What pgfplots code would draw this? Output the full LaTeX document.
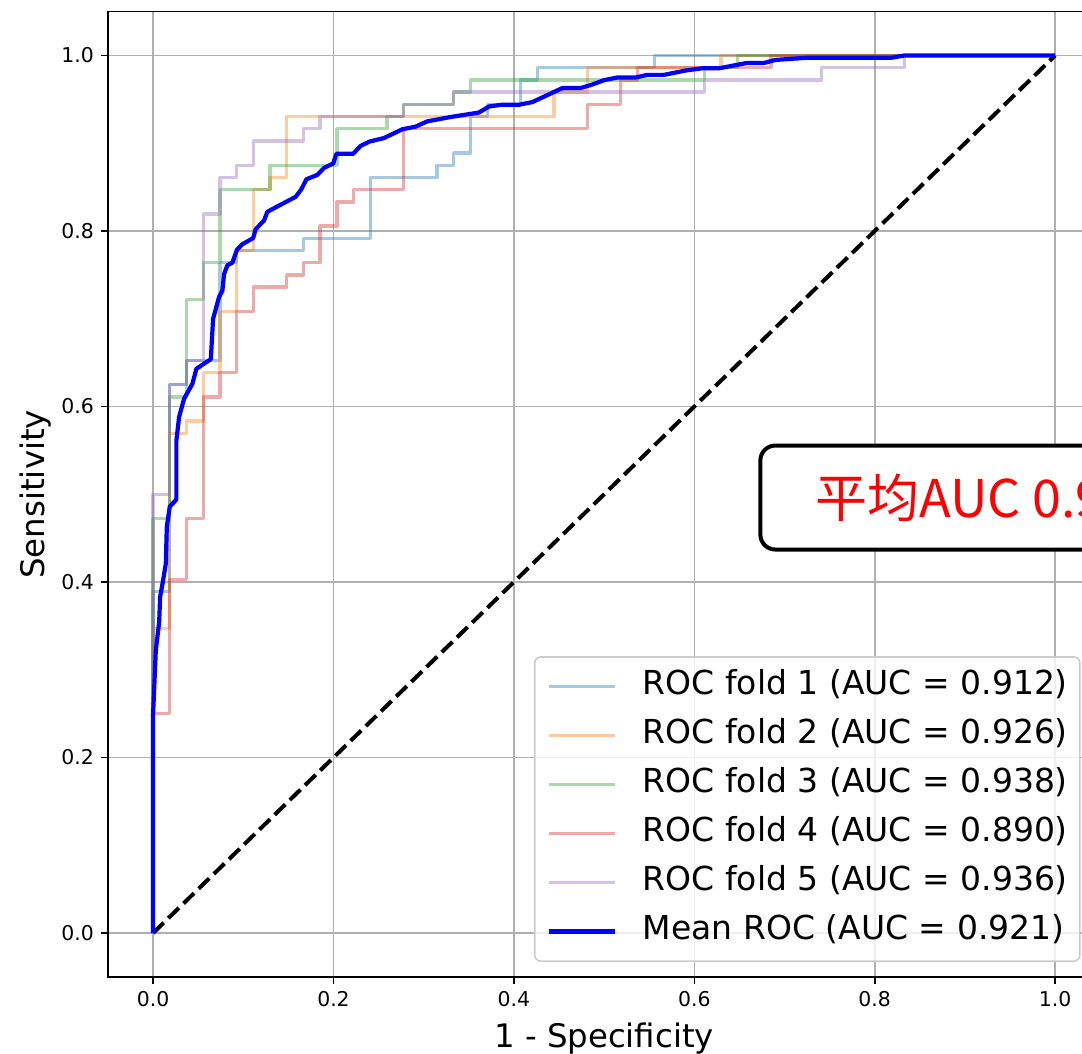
\documentclass[border=0pt]{standalone}
\usepackage{pgfplots}
\pgfplotsset{compat=1.18}
\usepackage{fontspec}
\setmainfont{DejaVu Sans}
\newfontfamily\cjk{Noto Sans CJK SC}
\definecolor{c0}{HTML}{1F77B4}
\definecolor{c1}{HTML}{FF7F0E}
\definecolor{c2}{HTML}{2CA02C}
\definecolor{c3}{HTML}{D62728}
\definecolor{c4}{HTML}{9467BD}
\definecolor{gridgray}{HTML}{B0B0B0}
\definecolor{legframe}{HTML}{CCCCCC}
\begin{document}
\begin{tikzpicture}
\useasboundingbox (-54pt,-38.55pt) rectangle (487pt,488.45pt);
\clip (-54pt,-38.55pt) rectangle (487pt,488.45pt);
\begin{axis}[
  scale only axis,
  width=496.1pt, height=482.6pt,
  xmin=-0.05, xmax=1.05, ymin=-0.05, ymax=1.05,
  xtick={0,0.2,0.4,0.6,0.8,1}, xticklabels={0.0,0.2,0.4,0.6,0.8,1.0},
  ytick={0,0.2,0.4,0.6,0.8,1}, yticklabels={0.0,0.2,0.4,0.6,0.8,1.0},
  /pgf/number format/assume math mode=true,
  tick align=outside, tick pos=left, major tick length=3.5pt,
  tick style={black, line width=0.8pt},
  axis line style={line width=0.8pt},
  grid=major, major grid style={line width=0.8pt, color=gridgray},
  ticklabel style={font=\fontsize{10.2}{12}\selectfont},
  xlabel={1 - Specificity}, ylabel={Sensitivity},
  every axis x label/.style={at={(axis description cs:0.5,-0.0736)}, anchor=base,
    font=\fontsize{16.2}{19}\selectfont},
  every axis y label/.style={at={(axis description cs:-0.0645,0.5)}, anchor=base, rotate=90,
    font=\fontsize{16.2}{19}\selectfont},
  legend cell align=left,
  legend image code/.code={\draw[#1] (0pt,0pt) -- (33pt,0pt);},
  legend style={at={(0.4293,0.3323)}, anchor=north west,
    draw=legframe, line width=0.8pt, rounded corners=3pt,
    fill=white, fill opacity=0.8, text opacity=1,
    font=\fontsize{16.5}{19}\selectfont,
    inner xsep=6pt, inner ysep=6.8pt,
    row sep=8.5pt, column sep=13pt,
    nodes={inner sep=0pt, text height=12pt, text depth=4pt}},
  every axis plot/.append style={line join=round},
]
\addplot[black, line width=2pt, dash pattern=on 7.4pt off 3.2pt, forget plot] coordinates {(0,0) (1,1)};

\addplot[c0, opacity=0.4, line width=1.7pt] coordinates {
(0,0)(0,0.3889)(0.0185,0.3889)(0.0185,0.625)(0.037,0.625)(0.037,0.6528)(0.0741,0.6528)(0.0741,0.7639)(0.0926,0.7639)(0.0926,0.7778)(0.1667,0.7778)(0.1667,0.7917)(0.2407,0.7917)(0.2407,0.8611)(0.3148,0.8611)(0.3148,0.875)(0.3333,0.875)(0.3333,0.8889)(0.3519,0.8889)(0.3519,0.9306)(0.3704,0.9306)(0.3704,0.9444)(0.4074,0.9444)(0.4074,0.9722)(0.4259,0.9722)(0.4259,0.9861)(0.5556,0.9861)(0.5556,1)(1,1)};
\addlegendentry{ROC fold 1 (AUC = 0.912)}

\addplot[c1, opacity=0.4, line width=1.7pt] coordinates {
(0,0)(0,0.3472)(0.0185,0.3472)(0.0185,0.5694)(0.037,0.5694)(0.037,0.5833)(0.0556,0.5833)(0.0556,0.6389)(0.0741,0.6389)(0.0741,0.7083)(0.0926,0.7083)(0.0926,0.7778)(0.1111,0.7778)(0.1111,0.8472)(0.1296,0.8472)(0.1296,0.8611)(0.1481,0.8611)(0.1481,0.9306)(0.4444,0.9306)(0.4444,0.9583)(0.4815,0.9583)(0.4815,0.9861)(0.6296,0.9861)(0.6296,1)(1,1)};
\addlegendentry{ROC fold 2 (AUC = 0.926)}

\addplot[c2, opacity=0.4, line width=1.7pt] coordinates {
(0,0)(0,0.4722)(0.0185,0.4722)(0.0185,0.6111)(0.037,0.6111)(0.037,0.7222)(0.0556,0.7222)(0.0556,0.7639)(0.0741,0.7639)(0.0741,0.8472)(0.1296,0.8472)(0.1296,0.875)(0.2037,0.875)(0.2037,0.9167)(0.2593,0.9167)(0.2593,0.9306)(0.2778,0.9306)(0.2778,0.9444)(0.3333,0.9444)(0.3333,0.9583)(0.3519,0.9583)(0.3519,0.9722)(0.6111,0.9722)(0.6111,0.9861)(0.6481,0.9861)(0.6481,1)(1,1)};
\addlegendentry{ROC fold 3 (AUC = 0.938)}

\addplot[c3, opacity=0.4, line width=1.7pt] coordinates {
(0,0)(0,0.25)(0.0185,0.25)(0.0185,0.4028)(0.037,0.4028)(0.037,0.4722)(0.0556,0.4722)(0.0556,0.6111)(0.0741,0.6111)(0.0741,0.6389)(0.0926,0.6389)(0.0926,0.7083)(0.1111,0.7083)(0.1111,0.7361)(0.1481,0.7361)(0.1481,0.75)(0.1667,0.75)(0.1667,0.7639)(0.1852,0.7639)(0.1852,0.8056)(0.2037,0.8056)(0.2037,0.8333)(0.2222,0.8333)(0.2222,0.8472)(0.2778,0.8472)(0.2778,0.9167)(0.4815,0.9167)(0.4815,0.9444)(0.5185,0.9444)(0.5185,0.9722)(0.537,0.9722)(0.537,0.9861)(0.6852,0.9861)(0.6852,1)(1,1)};
\addlegendentry{ROC fold 4 (AUC = 0.890)}

\addplot[c4, opacity=0.4, line width=1.7pt] coordinates {
(0,0)(0,0.5)(0.0185,0.5)(0.0185,0.625)(0.037,0.625)(0.037,0.6528)(0.0556,0.6528)(0.0556,0.8194)(0.0741,0.8194)(0.0741,0.8611)(0.0926,0.8611)(0.0926,0.875)(0.1111,0.875)(0.1111,0.9028)(0.1667,0.9028)(0.1667,0.9167)(0.1852,0.9167)(0.1852,0.9306)(0.2778,0.9306)(0.2778,0.9444)(0.3333,0.9444)(0.3333,0.9583)(0.6111,0.9583)(0.6111,0.9722)(0.7407,0.9722)(0.7407,0.9861)(0.8333,0.9861)(0.8333,1)(1,1)};
\addlegendentry{ROC fold 5 (AUC = 0.936)}

\addplot[blue, line width=2.1pt] coordinates {
(0,0)(0,0.25)(0.0011,0.276)(0.003,0.322)(0.0067,0.354)(0.0078,0.383)(0.0111,0.402)(0.0141,0.421)(0.0152,0.463)(0.0185,0.486)(0.0258,0.494)(0.0258,0.561)(0.0288,0.588)(0.0344,0.609)(0.0436,0.626)(0.048,0.643)(0.064,0.654)(0.0665,0.700)(0.0732,0.725)(0.0768,0.732)(0.0787,0.751)(0.0824,0.761)(0.0879,0.764)(0.0931,0.779)(0.099,0.785)(0.111,0.792)(0.1136,0.802)(0.123,0.812)(0.1267,0.822)(0.158,0.839)(0.164,0.847)(0.170,0.859)(0.182,0.864)(0.1896,0.872)(0.1996,0.877)(0.2032,0.888)(0.2217,0.888)(0.230,0.897)(0.240,0.902)(0.256,0.906)(0.2764,0.916)(0.291,0.919)(0.304,0.925)(0.330,0.930)(0.361,0.935)(0.3725,0.942)(0.387,0.944)(0.406,0.944)(0.4205,0.947)(0.4538,0.963)(0.474,0.963)(0.487,0.967)(0.500,0.972)(0.5148,0.975)(0.535,0.975)(0.548,0.978)(0.5665,0.978)(0.5906,0.983)(0.609,0.9855)(0.6275,0.9855)(0.658,0.9915)(0.677,0.9915)(0.690,0.995)(0.7236,0.9974)(0.818,0.9974)(0.8326,1)(1,1)};
\addlegendentry{Mean ROC (AUC = 0.921)}

\node[draw=black, line width=2pt, rounded corners=7.5pt, fill=white, anchor=west,
      text=red, font=\cjk\fontsize{26}{31}\selectfont,
      inner xsep=27.5pt, minimum height=52pt]
  at (axis cs:0.671,0.4963) {平均AUC 0.921};
\end{axis}
\end{tikzpicture}
\end{document}
